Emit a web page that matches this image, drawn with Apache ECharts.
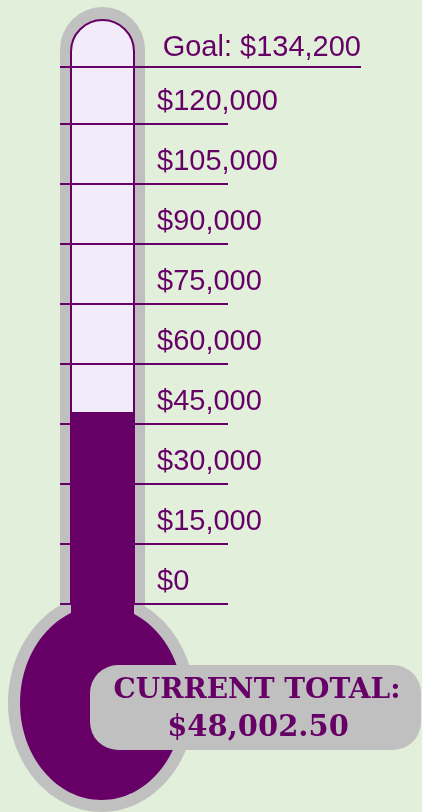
<!DOCTYPE html>
<html>
<head>
<meta charset="utf-8">
<script src="https://cdn.jsdelivr.net/npm/echarts@6/dist/echarts.min.js"></script>
<style>
html,body{margin:0;padding:0;background:#E2EFDA;}
#chart{width:422px;height:812px;}
</style>
</head>
<body>
<div id="chart"></div>
<script>
// ---- data ----
const categories = ['Raised', ''];
const raisedValues = [48002.5, '-'];
const goalValue = 134200;
const tickValues = [0, 15000, 30000, 45000, 60000, 75000, 90000, 105000, 120000];
const currentTotal = 48002.5;
const goalLabel = 'Goal: ';
const totalLabel = 'CURRENT TOTAL:';

// ---- style ----
const PURPLE = '#660066';
const GRAY = '#C0C0C0';
const LAVENDER = '#F2EBF9';
const money = v => '$' + Number(v).toLocaleString('en-US');
const money2 = v => '$' + Number(v).toLocaleString('en-US', {minimumFractionDigits: 2, maximumFractionDigits: 2});
const LINE_X0 = 60, TICK_X1 = 228, GOAL_X1 = 361;
const labelFont = {color: PURPLE, fontFamily: 'Liberation Sans', fontSize: 29};

const tickLines = tickValues.map(v => [
  {yAxis: v, x: LINE_X0, label: Object.assign({show: true, position: 'insideStartTop', distance: 8, offset: [89, 0], formatter: () => money(v)}, labelFont)},
  {yAxis: v, x: TICK_X1}
]);
const goalLine = [
  {yAxis: goalValue, x: LINE_X0, label: Object.assign({show: true, position: 'insideEndTop', distance: 5, offset: [5, 0], formatter: () => goalLabel + money(goalValue)}, labelFont)},
  {yAxis: goalValue, x: GOAL_X1}
];

const chart = echarts.init(document.getElementById('chart'), null, {renderer: 'canvas'});

const option = {
  backgroundColor: '#E2EFDA',
  animation: false,
  grid: {left: 60, width: 168, top: 67.2, bottom: 208, containLabel: false},
  xAxis: {type: 'category', data: categories, show: false},
  yAxis: {
    type: 'value', min: 0, max: goalValue, show: false,
    splitLine: {show: false}
  },
  series: [{
    type: 'bar', data: raisedValues, barWidth: 63, z: 2,
    itemStyle: {color: PURPLE},
    markLine: {
      symbol: 'none', silent: true, z: 5,
      lineStyle: {color: PURPLE, width: 2, type: 'solid'},
      data: tickLines.concat([goalLine])
    }
  }],
  graphic: [
    // outer gray glass
    {type: 'rect', z: -5, shape: {x: 60, y: 7, width: 85, height: 640, r: [42.5, 42.5, 0, 0]}, style: {fill: GRAY}},
    {type: 'ellipse', z: -5, shape: {cx: 101.5, cy: 703, rx: 93.5, ry: 109}, style: {fill: GRAY}},
    // inner tube
    {type: 'rect', z: -4, shape: {x: 71, y: 20, width: 63, height: 584, r: [31.5, 31.5, 0, 0]}, style: {fill: LAVENDER, stroke: PURPLE, lineWidth: 2}},
    // purple stem + bulb
    {type: 'rect', z: -3, shape: {x: 71, y: 600, width: 63, height: 60}, style: {fill: PURPLE}},
    {type: 'ellipse', z: -3, shape: {cx: 101.5, cy: 703, rx: 81.5, ry: 97}, style: {fill: PURPLE}},
    // total box
    {type: 'rect', z: 20, shape: {x: 90, y: 665, width: 331, height: 85, r: 28}, style: {fill: GRAY}},
    {type: 'text', z: 21, style: {text: totalLabel, x: 257, y: 691, fill: PURPLE, font: 'bold 28px "DejaVu Serif"', align: 'center', verticalAlign: 'middle', textAlign: 'center', textVerticalAlign: 'middle'}},
    {type: 'text', z: 21, style: {text: money2(currentTotal), x: 258, y: 728, fill: PURPLE, font: 'bold 29px "DejaVu Serif"', align: 'center', verticalAlign: 'middle', textAlign: 'center', textVerticalAlign: 'middle'}}
  ]
};
chart.setOption(option);
</script>
</body>
</html>
